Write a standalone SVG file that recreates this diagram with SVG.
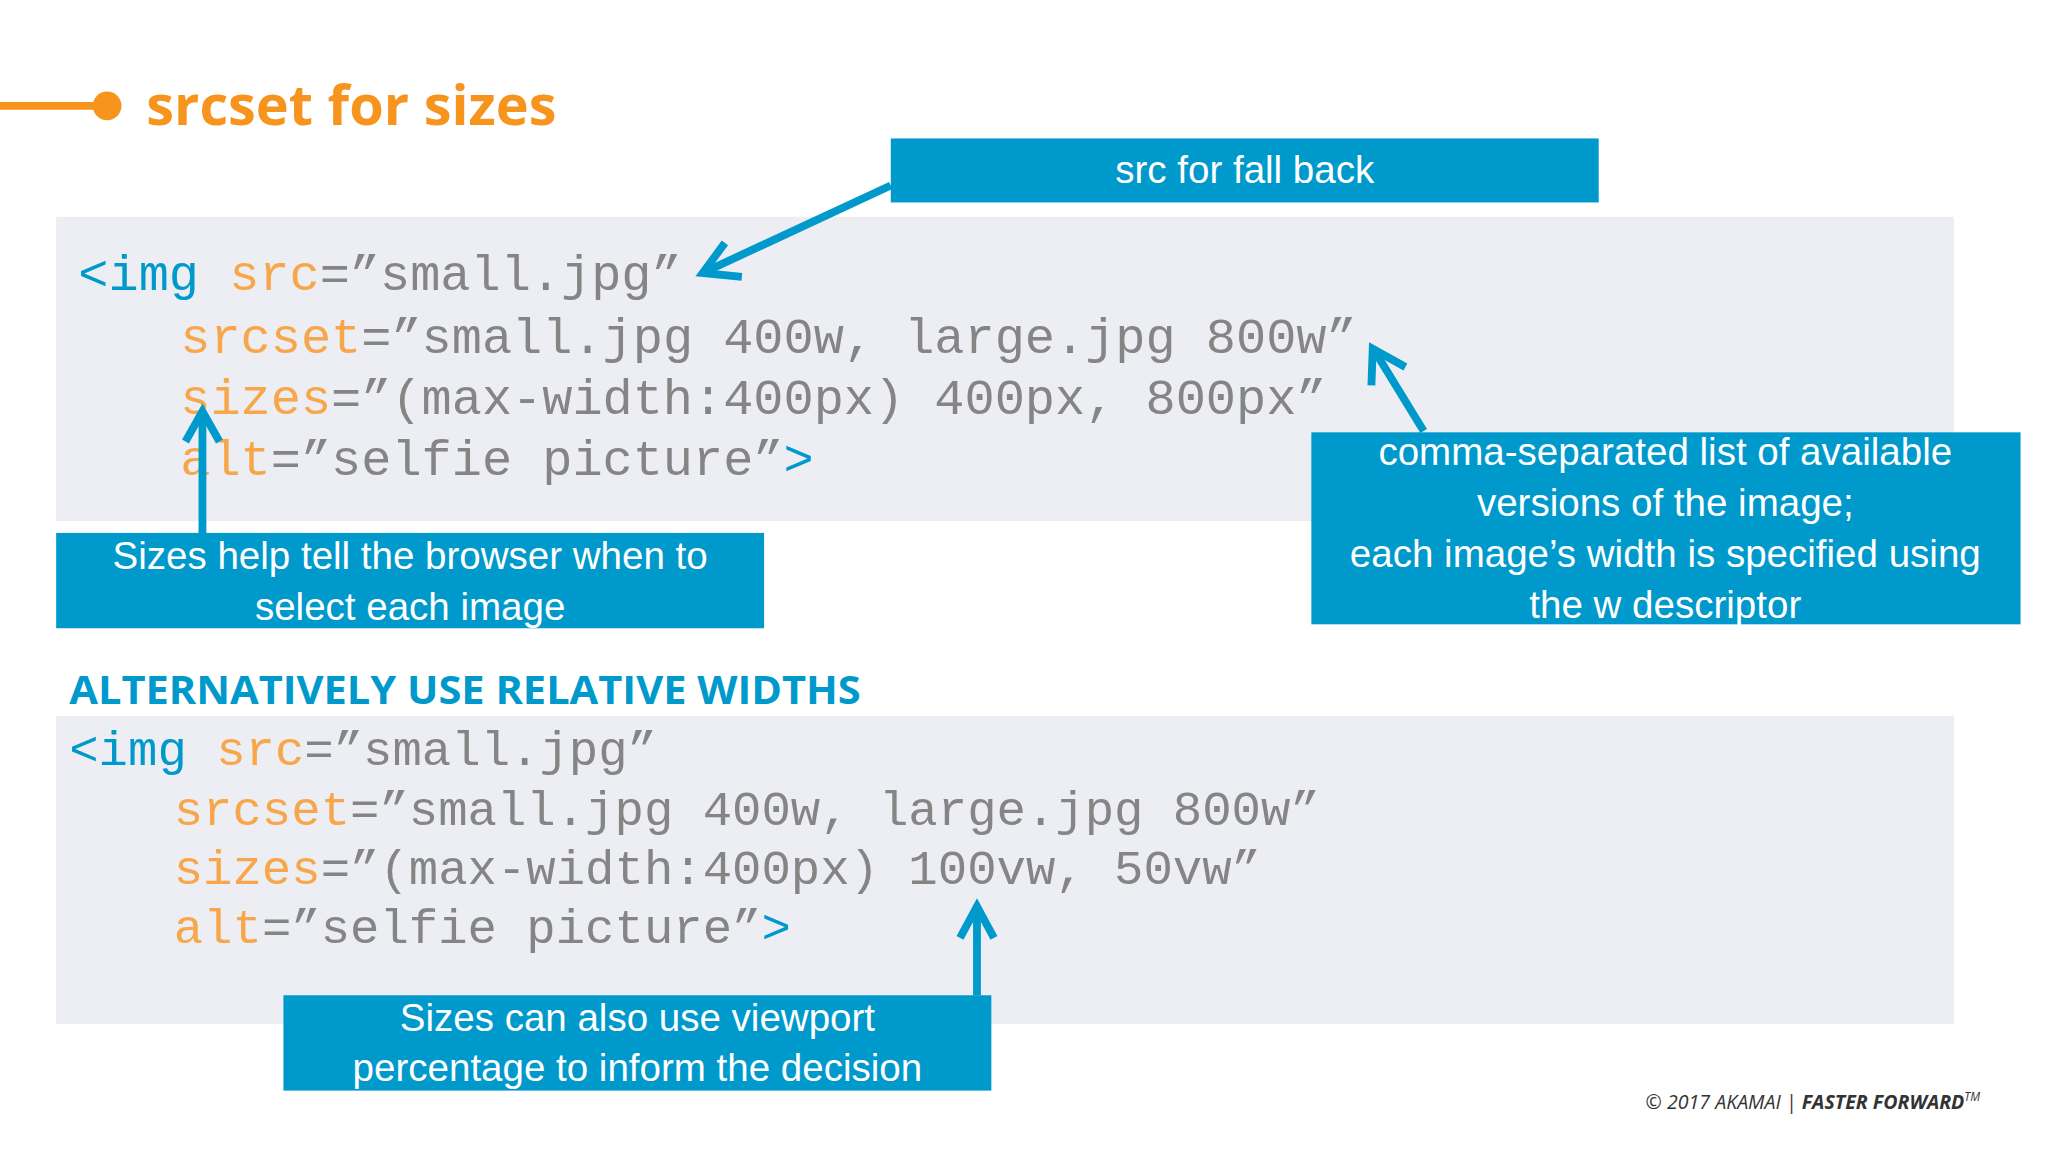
<svg xmlns="http://www.w3.org/2000/svg" width="2048" height="1152" viewBox="0 0 2048 1152">
<defs>
<style>
.box{fill:#0099CC}
.bt{font-family:"Liberation Sans",Arial,sans-serif;font-size:29.5px;fill:#fff;text-anchor:middle}
.code{font-family:"Liberation Mono","Courier New",monospace;font-size:38.5px;fill:#858585}
.tag{fill:#0099CC}
.at{fill:#F7A64A}
.panel{fill:#ECEEF3}
.conn{stroke:#0099CC;stroke-width:6;fill:none}
.head{stroke:#0099CC;stroke-width:6;fill:none;stroke-linejoin:miter}
</style>
</defs>
<rect width="2048" height="1152" fill="#fff"/>
<g transform="scale(1.30612)">
<g id="title">
<line x1="0" y1="81" x2="80" y2="81" stroke="#F7941D" stroke-width="6"/>
<circle cx="82" cy="81" r="11" fill="#F7941D"/>
<text x="112" y="96" font-family="'Open Sans',sans-serif" font-weight="bold" font-size="42" fill="#F7941D" textLength="314" lengthAdjust="spacingAndGlyphs">srcset for sizes</text>
</g>
<g id="panel1">
<rect class="panel" x="43" y="166" width="1453" height="233"/>
<text class="code" x="60" y="222"><tspan class="tag">&lt;img </tspan><tspan class="at">src</tspan>=”small.jpg”</text>
<text class="code" x="138" y="270"><tspan class="at">srcset</tspan>=”small.jpg 400w, large.jpg 800w”</text>
<text class="code" x="138" y="317"><tspan class="at">sizes</tspan>=”(max-width:400px) 400px, 800px”</text>
<text class="code" x="138" y="364"><tspan class="at">alt</tspan>=”selfie picture”<tspan class="tag">&gt;</tspan></text>
</g>
<g id="heading">
<text x="53" y="539" font-family="'Open Sans',sans-serif" font-weight="bold" font-size="30" fill="#0099CC" textLength="606" lengthAdjust="spacingAndGlyphs">ALTERNATIVELY USE RELATIVE WIDTHS</text>
</g>
<g id="panel2">
<rect class="panel" x="43" y="548" width="1453" height="236"/>
<text class="code" x="53" y="586" style="font-size:37.5px"><tspan class="tag">&lt;img </tspan><tspan class="at">src</tspan>=”small.jpg”</text>
<text class="code" x="133" y="632" style="font-size:37.5px"><tspan class="at">srcset</tspan>=”small.jpg 400w, large.jpg 800w”</text>
<text class="code" x="133" y="677" style="font-size:37.5px"><tspan class="at">sizes</tspan>=”(max-width:400px) 100vw, 50vw”</text>
<text class="code" x="133" y="722" style="font-size:37.5px"><tspan class="at">alt</tspan>=”selfie picture”<tspan class="tag">&gt;</tspan></text>
</g>
<g id="connectors">
<line class="conn" x1="682" y1="142" x2="540" y2="208"/>
<polyline class="head" points="555,186 538,209 568,212"/>
<line class="conn" x1="155" y1="408" x2="155" y2="316"/>
<polyline class="head" points="142,338 155,315 168,338"/>
<line class="conn" x1="1090" y1="330" x2="1052" y2="268"/>
<polyline class="head" points="1050,295 1051,267 1076,281"/>
<line class="conn" x1="748" y1="762" x2="748" y2="693"/>
<polyline class="head" points="735,718 748,694 761,718"/>
</g>
<g id="box-fallback">
<rect class="box" x="682" y="106" width="542" height="49"/>
<text class="bt" x="953" y="140">src for fall back</text>
</g>
<g id="box-sizes">
<rect class="box" x="43" y="408" width="542" height="73"/>
<text class="bt" x="314" y="436">Sizes help tell the browser when to</text>
<text class="bt" x="314" y="475">select each image</text>
</g>
<g id="box-srcset">
<rect class="box" x="1004" y="331" width="543" height="147"/>
<text class="bt" x="1275" y="356">comma-separated list of available</text>
<text class="bt" x="1275" y="395">versions of the image;</text>
<text class="bt" x="1275" y="434">each image’s width is specified using</text>
<text class="bt" x="1275" y="473">the w descriptor</text>
</g>
<g id="box-viewport">
<rect class="box" x="217" y="762" width="542" height="73"/>
<text class="bt" x="488" y="789">Sizes can also use viewport</text>
<text class="bt" x="488" y="828">percentage to inform the decision</text>
</g>
<g id="footer">
<text x="1516" y="849" text-anchor="end" font-family="'Open Sans',sans-serif" font-style="italic" font-size="15" fill="#333">© 2017 AKAMAI  |  <tspan font-weight="bold">FASTER FORWARD</tspan><tspan font-size="9" dy="-6">TM</tspan></text>
</g>
</g>
</svg>
